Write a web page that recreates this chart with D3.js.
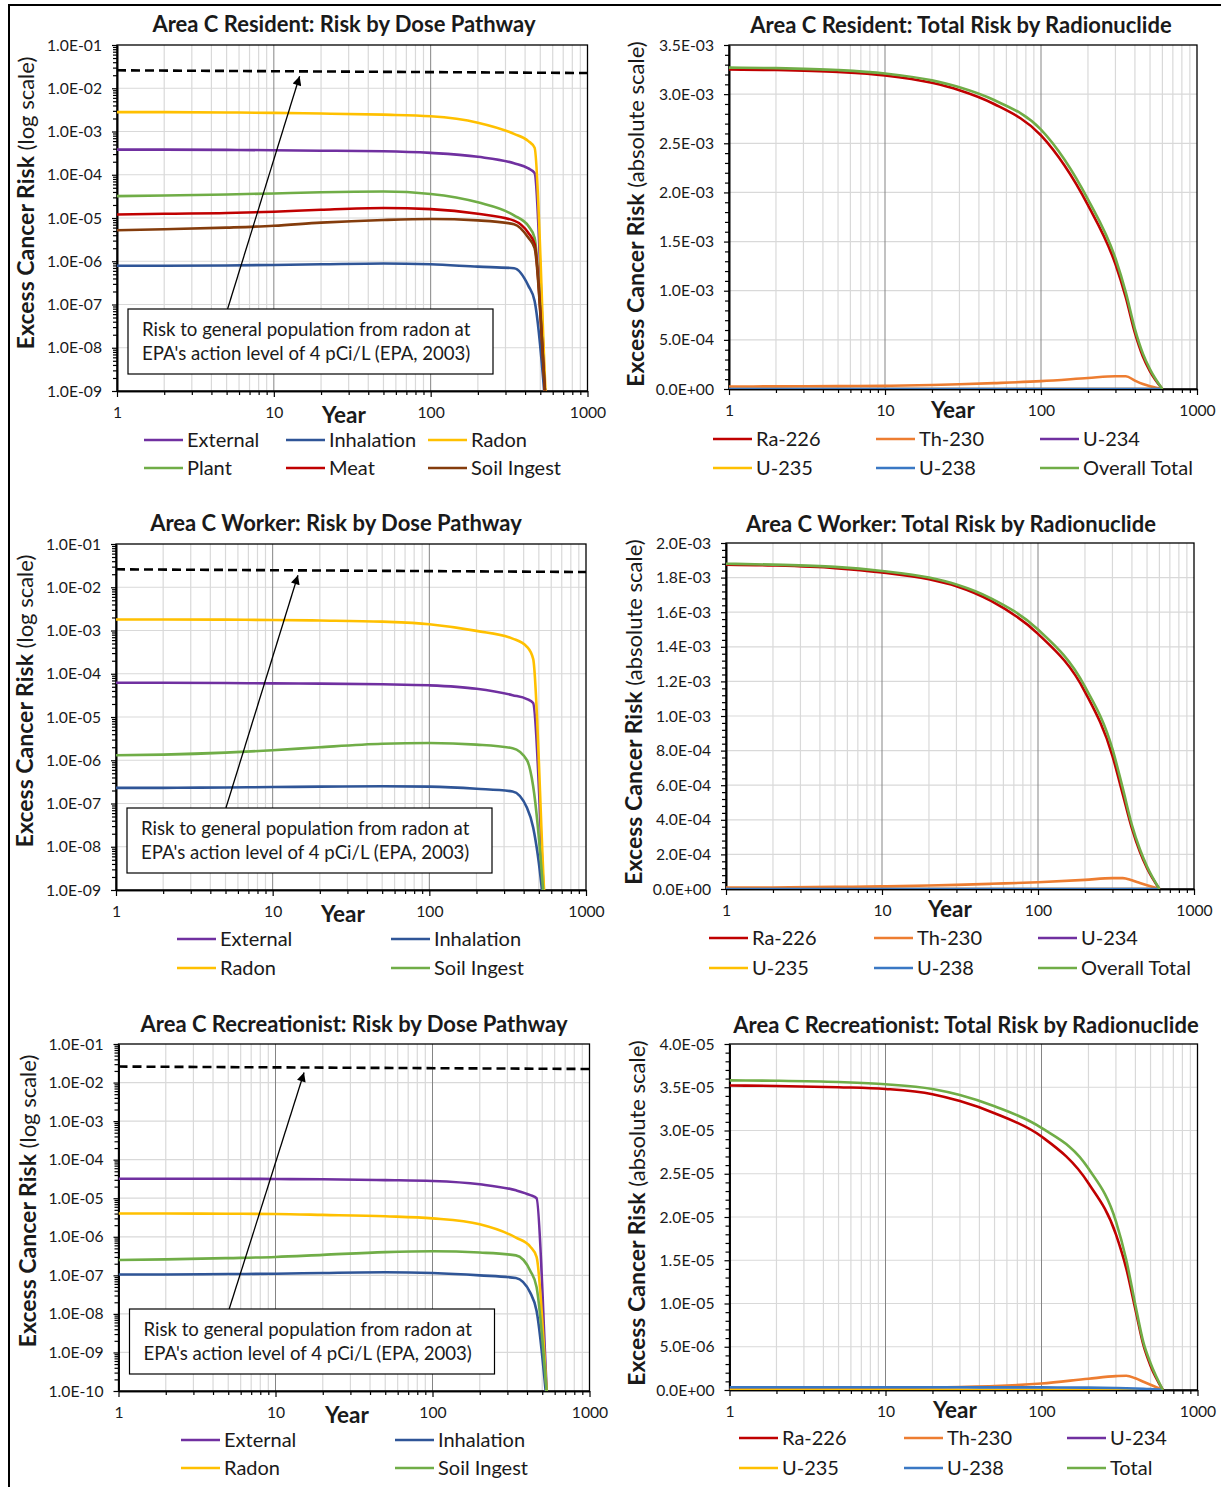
<!DOCTYPE html>
<html>
<head>
<meta charset="utf-8">
<script src="https://cdn.jsdelivr.net/npm/d3@7"></script>
<style>
body { margin: 0; background: #fff; }
svg text { font-family: Lato, "Open Sans", sans-serif; fill: #1a1a1a; }
</style>
</head>
<body>
<div id="chart"></div>
<script>
const width = 1222, height = 1487;

// ---------- data ----------
// years for the dose pathway charts (log scale)
const pathwayYears = [1, 2, 5, 10, 20, 50, 100, 200, 340, 420, 460, 540, 580];
// years for the radionuclide charts (absolute scale)
const nuclideYears = [1, 2, 5, 10, 20, 30, 50, 100, 200, 300, 350, 400, 450, 500, 600];

// risk to general population from radon at 4 pCi/L (dashed line)
const epaYears = [1, 1000];
const epaRisk = [0.026, 0.0225];

// Resident - risk by dose pathway
const resExternal   = [3.8e-4, 3.8e-4, 3.75e-4, 3.7e-4, 3.6e-4, 3.5e-4, 3.2e-4, 2.6e-4, 1.85e-4, 1.4e-4, 1.1e-4, 6e-10, 1e-11];
const resInhalation = [7.9e-7, 7.9e-7, 8.0e-7, 8.2e-7, 8.5e-7, 8.9e-7, 8.5e-7, 7.5e-7, 6.9e-7, 2.7e-7, 1.2e-7, 4e-10, 1e-11];
const resRadon      = [2.8e-3, 2.8e-3, 2.75e-3, 2.7e-3, 2.6e-3, 2.45e-3, 2.25e-3, 1.6e-3, 8.8e-4, 6.0e-4, 4.2e-4, 1e-9, 1e-11];
const resPlant      = [3.2e-5, 3.3e-5, 3.5e-5, 3.7e-5, 3.95e-5, 4.1e-5, 3.6e-5, 2.3e-5, 1.15e-5, 6.5e-6, 3.5e-6, 6e-10, 1e-11];
const resMeat       = [1.2e-5, 1.25e-5, 1.3e-5, 1.4e-5, 1.55e-5, 1.7e-5, 1.6e-5, 1.25e-5, 8.7e-6, 4.5e-6, 2.5e-6, 6e-10, 1e-11];
const resSoil       = [5.2e-6, 5.5e-6, 6.0e-6, 6.6e-6, 7.8e-6, 9.0e-6, 9.5e-6, 8.8e-6, 7.2e-6, 3.5e-6, 2.0e-6, 6e-10, 1e-11];

// Worker - risk by dose pathway
const wrkExternal   = [6.2e-5, 6.2e-5, 6.1e-5, 6.0e-5, 5.9e-5, 5.7e-5, 5.4e-5, 4.5e-5, 3.2e-5, 2.6e-5, 2.1e-5, 6e-10, 1e-11];
const wrkInhalation = [2.3e-7, 2.3e-7, 2.35e-7, 2.4e-7, 2.45e-7, 2.5e-7, 2.45e-7, 2.2e-7, 1.9e-7, 8e-8, 2.8e-8, 3e-10, 1e-11];
const wrkRadon      = [1.8e-3, 1.8e-3, 1.78e-3, 1.75e-3, 1.7e-3, 1.6e-3, 1.4e-3, 9.8e-4, 6.5e-4, 4.2e-4, 2.2e-4, 1e-9, 1e-11];
const wrkSoil       = [1.3e-6, 1.35e-6, 1.5e-6, 1.7e-6, 2.0e-6, 2.4e-6, 2.5e-6, 2.3e-6, 1.9e-6, 1.0e-6, 2.5e-7, 5e-10, 1e-11];

// Recreationist - risk by dose pathway
const recExternal   = [3.2e-5, 3.2e-5, 3.2e-5, 3.15e-5, 3.1e-5, 2.95e-5, 2.8e-5, 2.3e-5, 1.6e-5, 1.2e-5, 1.0e-5, 5e-11, 1e-12];
const recInhalation = [1.05e-7, 1.05e-7, 1.08e-7, 1.1e-7, 1.15e-7, 1.2e-7, 1.15e-7, 1.0e-7, 8.5e-8, 3.5e-8, 1.2e-8, 3e-11, 1e-12];
const recRadon      = [4.0e-6, 4.0e-6, 3.95e-6, 3.9e-6, 3.7e-6, 3.4e-6, 3.0e-6, 2.1e-6, 9.5e-7, 5.5e-7, 3e-7, 5e-11, 1e-12];
const recSoil       = [2.5e-7, 2.6e-7, 2.8e-7, 3.0e-7, 3.4e-7, 4.0e-7, 4.2e-7, 3.9e-7, 3.3e-7, 1.3e-7, 5e-8, 5e-11, 1e-12];

// Resident - total risk by radionuclide
const resRa226 = [3.25e-3, 3.245e-3, 3.225e-3, 3.19e-3, 3.115e-3, 3.04e-3, 2.90e-3, 2.58e-3, 1.87e-3, 1.27e-3, 0.93e-3, 0.57e-3, 0.33e-3, 0.18e-3, 0];
const resTh230 = [2.5e-5, 2.7e-5, 2.9e-5, 3.2e-5, 4.0e-5, 4.8e-5, 6.0e-5, 8.0e-5, 1.12e-4, 1.3e-4, 1.3e-4, 8.5e-5, 5e-5, 2.7e-5, 0];
const resU234  = [5e-7, 5e-7, 5e-7, 5e-7, 5e-7, 5e-7, 5e-7, 5e-7, 4e-7, 3e-7, 3e-7, 2e-7, 2e-7, 1e-7, 0];
const resU235  = [2e-8, 2e-8, 2e-8, 2e-8, 2e-8, 2e-8, 2e-8, 2e-8, 2e-8, 1e-8, 1e-8, 1e-8, 1e-8, 1e-8, 0];
const resU238  = [4e-7, 4e-7, 4e-7, 4e-7, 4e-7, 4e-7, 4e-7, 4e-7, 3e-7, 3e-7, 2e-7, 2e-7, 1e-7, 1e-7, 0];
const resTotal = [3.27e-3, 3.265e-3, 3.245e-3, 3.21e-3, 3.14e-3, 3.07e-3, 2.94e-3, 2.64e-3, 1.93e-3, 1.33e-3, 0.98e-3, 0.61e-3, 0.36e-3, 0.20e-3, 0];

// Worker - total risk by radionuclide
const wrkRa226 = [1.875e-3, 1.87e-3, 1.855e-3, 1.83e-3, 1.79e-3, 1.75e-3, 1.665e-3, 1.475e-3, 1.14e-3, 0.77e-3, 0.545e-3, 0.35e-3, 0.215e-3, 0.12e-3, 0];
const wrkTh230 = [8e-6, 9e-6, 1.2e-5, 1.5e-5, 2.0e-5, 2.4e-5, 3.0e-5, 3.9e-5, 5.3e-5, 6.3e-5, 6.3e-5, 5e-5, 3.5e-5, 2.2e-5, 0];
const wrkU234  = [2e-7, 2e-7, 2e-7, 2e-7, 2e-7, 2e-7, 2e-7, 2e-7, 2e-7, 1e-7, 1e-7, 1e-7, 1e-7, 1e-7, 0];
const wrkU235  = [1e-8, 1e-8, 1e-8, 1e-8, 1e-8, 1e-8, 1e-8, 1e-8, 1e-8, 1e-8, 1e-8, 1e-8, 1e-8, 1e-8, 0];
const wrkU238  = [3e-7, 3e-7, 3e-7, 3e-7, 3e-7, 3e-7, 3e-7, 3e-7, 2e-7, 2e-7, 2e-7, 1e-7, 1e-7, 1e-7, 0];
const wrkTotal = [1.88e-3, 1.875e-3, 1.862e-3, 1.838e-3, 1.80e-3, 1.76e-3, 1.68e-3, 1.50e-3, 1.17e-3, 0.81e-3, 0.58e-3, 0.37e-3, 0.23e-3, 0.13e-3, 0];

// Recreationist - total risk by radionuclide
const recRa226 = [3.52e-5, 3.515e-5, 3.5e-5, 3.48e-5, 3.42e-5, 3.34e-5, 3.2e-5, 2.93e-5, 2.39e-5, 1.80e-5, 1.4e-5, 0.93e-5, 0.52e-5, 0.28e-5, 0];
const recTh230 = [1.0e-7, 1.2e-7, 1.6e-7, 2.1e-7, 2.9e-7, 3.5e-7, 4.5e-7, 7.5e-7, 1.3e-6, 1.6e-6, 1.65e-6, 1.35e-6, 9.5e-7, 6e-7, 0];
const recU234  = [1e-9, 1e-9, 1e-9, 1e-9, 1e-9, 1e-9, 1e-9, 1e-9, 1e-9, 1e-9, 1e-9, 1e-9, 1e-9, 1e-9, 0];
const recU235  = [1.5e-8, 1.5e-8, 1.5e-8, 1.5e-8, 1.5e-8, 1.5e-8, 1.5e-8, 1.5e-8, 1.5e-8, 1.4e-8, 1.3e-8, 1.2e-8, 1e-8, 8e-9, 0];
const recU238  = [3.2e-7, 3.2e-7, 3.2e-7, 3.1e-7, 3.1e-7, 3.1e-7, 3.0e-7, 3.0e-7, 2.7e-7, 2.3e-7, 2.1e-7, 1.8e-7, 1.4e-7, 1e-7, 0];
const recTotal = [3.58e-5, 3.575e-5, 3.56e-5, 3.535e-5, 3.48e-5, 3.41e-5, 3.28e-5, 3.03e-5, 2.56e-5, 1.95e-5, 1.5e-5, 0.98e-5, 0.55e-5, 0.31e-5, 0];

// ---------- colours ----------
const cPurple = "#7030a0", cDarkBlue = "#2f5597", cGold = "#ffc000", cGreen = "#70ad47",
      cRed = "#c00000", cBrown = "#843c0c", cOrange = "#ed7d31", cBlue = "#3a78c4";

const nuclides = function (ra, th, u4, u5, u8, tot, totName) {
  return [
    { name: "Ra-226", values: ra, color: cRed },
    { name: "Th-230", values: th, color: cOrange },
    { name: "U-234", values: u4, color: cPurple },
    { name: "U-235", values: u5, color: cGold },
    { name: "U-238", values: u8, color: cBlue },
    { name: totName, values: tot, color: cGreen }
  ];
};

// ---------- panels (layout) ----------
const panels = [
  { title: "Area C Resident: Risk by Dose Pathway", titlePos: [344, 24],
    left: 117, right: 587.5, top: 45, bottom: 391, log: true, yDomain: [1e-9, 1e-1],
    years: pathwayYears, yTitlePos: [28, 203], yearPos: [344, 415],
    series: [
      { name: "External", values: resExternal, color: cPurple },
      { name: "Inhalation", values: resInhalation, color: cDarkBlue },
      { name: "Radon", values: resRadon, color: cGold },
      { name: "Plant", values: resPlant, color: cGreen },
      { name: "Meat", values: resMeat, color: cRed },
      { name: "Soil Ingest", values: resSoil, color: cBrown }
    ],
    legendCols: [144, 286, 428], legendRows: [440, 468], arrowYears: [5.07, 14.6] },
  { title: "Area C Resident: Total Risk by Radionuclide", titlePos: [961, 25],
    left: 729, right: 1197, top: 45, bottom: 389, log: false, yDomain: [0, 3.5e-3], yStep: 5e-4, yMinor: 1e-4,
    years: nuclideYears, yTitlePos: [638, 214], yearPos: [953, 410],
    series: nuclides(resRa226, resTh230, resU234, resU235, resU238, resTotal, "Overall Total"),
    legendCols: [713, 876, 1040], legendRows: [439, 468] },
  { title: "Area C Worker: Risk by Dose Pathway", titlePos: [336, 523],
    left: 116, right: 586, top: 544, bottom: 890, log: true, yDomain: [1e-9, 1e-1],
    years: pathwayYears, yTitlePos: [27, 701], yearPos: [343, 914],
    series: [
      { name: "External", values: wrkExternal, color: cPurple },
      { name: "Inhalation", values: wrkInhalation, color: cDarkBlue },
      { name: "Radon", values: wrkRadon, color: cGold },
      { name: "Soil Ingest", values: wrkSoil, color: cGreen }
    ],
    legendCols: [177, 391], legendRows: [939, 968], arrowYears: [5.03, 14.5] },
  { title: "Area C Worker: Total Risk by Radionuclide", titlePos: [951, 524],
    left: 726, right: 1194, top: 543, bottom: 889, log: false, yDomain: [0, 2e-3], yStep: 2e-4, yMinor: 4e-5,
    years: nuclideYears, yTitlePos: [636, 712], yearPos: [950, 909],
    series: nuclides(wrkRa226, wrkTh230, wrkU234, wrkU235, wrkU238, wrkTotal, "Overall Total"),
    legendCols: [709, 874, 1038], legendRows: [938, 968] },
  { title: "Area C Recreationist: Risk by Dose Pathway", titlePos: [354, 1024],
    left: 118.5, right: 589.5, top: 1044, bottom: 1391, log: true, yDomain: [1e-10, 1e-1],
    years: pathwayYears, yTitlePos: [30, 1201], yearPos: [347, 1415],
    series: [
      { name: "External", values: recExternal, color: cPurple },
      { name: "Inhalation", values: recInhalation, color: cDarkBlue },
      { name: "Radon", values: recRadon, color: cGold },
      { name: "Soil Ingest", values: recSoil, color: cGreen }
    ],
    legendCols: [181, 395], legendRows: [1440, 1468], arrowYears: [5.07, 15.2] },
  { title: "Area C Recreationist: Total Risk by Radionuclide", titlePos: [966, 1025],
    left: 729.5, right: 1197.5, top: 1044, bottom: 1390, log: false, yDomain: [0, 4e-5], yStep: 5e-6, yMinor: 1e-6,
    years: nuclideYears, yTitlePos: [639, 1213], yearPos: [955, 1410],
    series: nuclides(recRa226, recTh230, recU234, recU235, recU238, recTotal, "Total"),
    legendCols: [739, 904, 1067], legendRows: [1438, 1468] }
];

const svg = d3.select("#chart").append("svg")
    .attr("width", width)
    .attr("height", height);

svg.append("defs").append("marker")
    .attr("id", "arrow")
    .attr("viewBox", "0 0 10 10")
    .attr("refX", 10).attr("refY", 5)
    .attr("markerWidth", 11).attr("markerHeight", 9)
    .attr("markerUnits", "userSpaceOnUse")
    .attr("orient", "auto")
  .append("path")
    .attr("d", "M0,0L10,5L0,10z")
    .attr("fill", "#000");

// outer frame of the figure
svg.append("path")
    .attr("d", "M9," + height + "L9,5L1221,5")
    .attr("fill", "none")
    .attr("stroke", "#000")
    .attr("stroke-width", 2);

function logLabel(v) {
  const e = Math.round(Math.log10(v));
  return "1.0E" + (e < 0 ? "-" : "+") + String(Math.abs(e)).padStart(2, "0");
}
function linLabel(v) {
  if (Math.abs(v) < 1e-15) return "0.0E+00";
  const parts = v.toExponential(1).split("e");
  const e = +parts[1];
  return parts[0] + "E" + (e < 0 ? "-" : "+") + String(Math.abs(e)).padStart(2, "0");
}

panels.forEach(function (p, i) {
  const g = svg.append("g");
  const x = d3.scaleLog().domain([1, 1000]).range([p.left, p.right]);
  const y = (p.log ? d3.scaleLog() : d3.scaleLinear()).domain(p.yDomain).range([p.bottom, p.top]);

  // tick values
  const xMajor = [1, 10, 100, 1000];
  const xMinor = [];
  [1, 10, 100].forEach(function (d) { for (let k = 2; k <= 9; k++) xMinor.push(d * k); });
  let yMajor, yMinor = [];
  if (p.log) {
    const lo = Math.round(Math.log10(p.yDomain[0])), hi = Math.round(Math.log10(p.yDomain[1]));
    yMajor = d3.range(lo, hi + 1).map(function (e) { return Math.pow(10, e); });
    d3.range(lo, hi).forEach(function (e) { for (let k = 2; k <= 9; k++) yMinor.push(k * Math.pow(10, e)); });
  } else {
    const n = Math.round(p.yDomain[1] / p.yStep);
    yMajor = d3.range(0, n + 1).map(function (k) { return k * p.yStep; });
    const m = Math.round(p.yDomain[1] / p.yMinor);
    yMinor = d3.range(0, m + 1).filter(function (k) { return k % Math.round(p.yStep / p.yMinor) !== 0; })
        .map(function (k) { return k * p.yMinor; });
  }

  // gridlines
  g.append("g").selectAll("line")
      .data(yMajor.slice(1, -1)).enter()
      .append("line")
      .attr("x1", p.left).attr("x2", p.right)
      .attr("y1", function (d) { return y(d); }).attr("y2", function (d) { return y(d); })
      .attr("stroke", "#d9d9d9").attr("stroke-width", 1.2);
  g.append("g").selectAll("line")
      .data(xMinor).enter()
      .append("line")
      .attr("x1", function (d) { return x(d); }).attr("x2", function (d) { return x(d); })
      .attr("y1", p.top).attr("y2", p.bottom)
      .attr("stroke", "#d9d9d9").attr("stroke-width", 1.2);
  g.append("g").selectAll("line")
      .data([10, 100]).enter()
      .append("line")
      .attr("x1", function (d) { return x(d); }).attr("x2", function (d) { return x(d); })
      .attr("y1", p.top).attr("y2", p.bottom)
      .attr("stroke", "#858585").attr("stroke-width", 1);

  // plot border
  g.append("rect")
      .attr("x", p.left).attr("y", p.top)
      .attr("width", p.right - p.left).attr("height", p.bottom - p.top)
      .attr("fill", "none").attr("stroke", "#000").attr("stroke-width", 1.3);

  // axes
  const yAxis = g.append("g")
      .attr("transform", "translate(" + p.left + ",0)")
      .call(d3.axisLeft(y).tickValues(yMajor).tickSize(5).tickSizeOuter(0).tickPadding(10)
          .tickFormat(p.log ? logLabel : linLabel));
  g.append("g")
      .attr("transform", "translate(" + p.left + ",0)")
      .call(d3.axisLeft(y).tickValues(yMinor).tickSize(4).tickSizeOuter(0).tickFormat(""));
  const xAxis = g.append("g")
      .attr("transform", "translate(0," + p.bottom + ")")
      .call(d3.axisBottom(x).tickValues(xMajor).tickSize(6).tickSizeOuter(0).tickPadding(10)
          .tickFormat(d3.format("d")));
  g.append("g")
      .attr("transform", "translate(0," + p.bottom + ")")
      .call(d3.axisBottom(x).tickValues(xMinor).tickSize(4).tickSizeOuter(0).tickFormat(""));
  g.selectAll(".domain").attr("stroke", "#000").attr("stroke-width", 1.6);
  g.selectAll(".tick line").attr("stroke", "#000").attr("stroke-width", 1.2);
  yAxis.selectAll("text").attr("font-size", 15.7).attr("font-family", "Lato").attr("fill", "#1a1a1a");
  xAxis.selectAll("text").attr("font-size", 15.7).attr("font-family", "Lato").attr("fill", "#1a1a1a");

  // series
  const clipId = "clip" + i;
  svg.append("clipPath").attr("id", clipId)
    .append("rect")
      .attr("x", p.left).attr("y", p.top)
      .attr("width", p.right - p.left).attr("height", p.bottom - p.top);
  const plot = g.append("g").attr("clip-path", "url(#" + clipId + ")");
  const line = d3.line()
      .x(function (d) { return x(d[0]); })
      .y(function (d) { return y(d[1]); })
      .curve(d3.curveMonotoneX);

  if (p.log) {
    plot.append("path")
        .attr("d", d3.line().x(function (d) { return x(d[0]); }).y(function (d) { return y(d[1]); })(d3.zip(epaYears, epaRisk)))
        .attr("fill", "none").attr("stroke", "#000").attr("stroke-width", 2.6)
        .attr("stroke-dasharray", "9,5");
  }

  plot.selectAll("path.series")
      .data(p.series).enter()
      .append("path")
      .attr("class", "series")
      .attr("d", function (s) { return line(d3.zip(p.years, s.values)); })
      .attr("fill", "none")
      .attr("stroke", function (s) { return s.color; })
      .attr("stroke-width", 2.6)
      .attr("stroke-linejoin", "round");

  // annotation: arrow + box
  if (p.log) {
    const boxTop = p.bottom - 82, boxBottom = p.bottom - 17;
    g.append("line")
        .attr("x1", x(p.arrowYears[0])).attr("y1", boxTop)
        .attr("x2", x(p.arrowYears[1])).attr("y2", y(epaRisk[0]) + 6)
        .attr("stroke", "#000").attr("stroke-width", 1.3)
        .attr("marker-end", "url(#arrow)");
    g.append("rect")
        .attr("x", p.left + 11).attr("y", boxTop)
        .attr("width", 365).attr("height", boxBottom - boxTop)
        .attr("fill", "#fff").attr("stroke", "#000").attr("stroke-width", 1.2);
    g.selectAll("text.note")
        .data(["Risk to general population from radon at", "EPA's action level of 4 pCi/L (EPA, 2003)"]).enter()
        .append("text")
        .attr("class", "note")
        .attr("x", p.left + 25)
        .attr("y", function (d, k) { return boxTop + 20 + k * 24; })
        .attr("dy", "0.35em")
        .attr("font-size", 18.6)
        .text(function (d) { return d; });
  }

  // titles
  g.append("text")
      .attr("x", p.titlePos[0]).attr("y", p.titlePos[1])
      .attr("dy", "0.35em")
      .attr("text-anchor", "middle")
      .attr("font-weight", "bold")
      .attr("font-size", 22)
      .text(p.title);
  g.append("text")
      .attr("x", p.yearPos[0]).attr("y", p.yearPos[1])
      .attr("dy", "0.35em")
      .attr("text-anchor", "middle")
      .attr("font-weight", "bold")
      .attr("font-size", 22.5)
      .text("Year");
  const yt = g.append("text")
      .attr("transform", "translate(" + p.yTitlePos[0] + "," + p.yTitlePos[1] + ") rotate(-90)")
      .attr("dy", "0.35em")
      .attr("text-anchor", "middle");
  yt.append("tspan").attr("font-weight", "bold").attr("font-size", 23).text("Excess Cancer Risk");
  yt.append("tspan").attr("font-size", 22).text(p.log ? " (log scale)" : " (absolute scale)");

  // legend
  const ncol = p.legendCols.length;
  const items = g.selectAll("g.legend")
      .data(p.series).enter()
      .append("g")
      .attr("class", "legend")
      .attr("transform", function (s, k) {
        return "translate(" + p.legendCols[k % ncol] + "," + p.legendRows[Math.floor(k / ncol)] + ")";
      });
  items.append("line")
      .attr("x1", 0).attr("x2", 39)
      .attr("stroke", function (s) { return s.color; })
      .attr("stroke-width", 2.6);
  items.append("text")
      .attr("x", 43)
      .attr("dy", "0.35em")
      .attr("font-size", 20)
      .text(function (s) { return s.name; });
});
</script>
</body>
</html>
